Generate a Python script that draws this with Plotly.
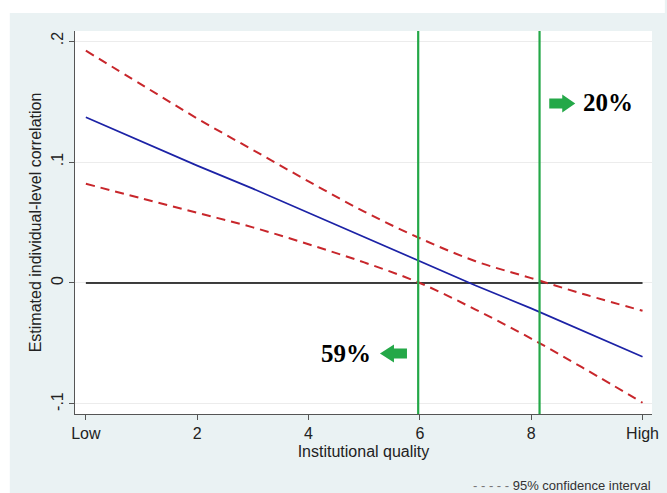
import plotly.graph_objects as go

# ---- data ----
quality = [0, 1, 2, 3, 4, 5, 6, 7, 8, 9, 10]
estimate = [0.137, 0.117, 0.097, 0.078, 0.058, 0.038, 0.018, -0.002, -0.021, -0.041, -0.061]
ci_upper = [0.192, 0.164, 0.136, 0.110, 0.084, 0.059, 0.037, 0.018, 0.004, -0.010, -0.023]
ci_lower = [0.082, 0.070, 0.058, 0.046, 0.032, 0.017, 0.000, -0.022, -0.046, -0.072, -0.099]
zero_x = [0, 10]
zero_y = [0, 0]
thresholds = [5.97, 8.15]
x_tickvals = [0, 2, 4, 6, 8, 10]
x_ticktext = ["Low", "2", "4", "6", "8", "High"]
y_tickvals = [-0.1, 0, 0.1, 0.2]
y_ticktext = ["-.1", "0", ".1", ".2"]
share_labels = ["59%", "20%"]

W, H = 667, 493
L, R, T, B = 75, 8, 31, 79
pw, ph = W - L - R, H - T - B
BG = "#eaf2f3"
GREEN = "#24a848"
SANS = "Liberation Sans, Arial, sans-serif"
SERIF = "Liberation Serif, Times New Roman, serif"


def px_x(p):
    return (p - L) / pw


def px_y(p):
    return (H - B - p) / ph


fig = go.Figure()
fig.add_trace(go.Scatter(x=zero_x, y=zero_y, mode="lines",
                         line=dict(color="black", width=1.3), hoverinfo="skip"))
fig.add_trace(go.Scatter(x=quality, y=ci_upper, mode="lines", line_shape="spline",
                         line=dict(color="#c8262b", width=2, dash="9px,6px")))
fig.add_trace(go.Scatter(x=quality, y=ci_lower, mode="lines", line_shape="spline",
                         line=dict(color="#c8262b", width=2, dash="9px,6px")))
fig.add_trace(go.Scatter(x=quality, y=estimate, mode="lines",
                         line=dict(color="#1c22a6", width=1.7)))

shapes = []
# white margins outside the graph region background
shapes.append(dict(type="rect", xref="paper", yref="paper", layer="below",
                   x0=px_x(-5), x1=px_x(9), y0=px_y(H + 5), y1=px_y(-5),
                   fillcolor="white", line=dict(width=0)))
shapes.append(dict(type="rect", xref="paper", yref="paper", layer="below",
                   x0=px_x(-5), x1=px_x(W + 5), y0=px_y(13), y1=px_y(-5),
                   fillcolor="white", line=dict(width=0)))
for t in thresholds:
    shapes.append(dict(type="line", xref="x", yref="paper", x0=t, x1=t, y0=0, y1=1,
                       line=dict(color=GREEN, width=2.2)))
# block arrows
shapes.append(dict(type="path", xref="paper", yref="paper",
                   xsizemode="pixel", ysizemode="pixel",
                   xanchor=px_x(555), yanchor=px_y(103.5),
                   path="M0,-5 L13,-5 L13,-9 L26,0 L13,9 L13,5 L0,5 Z",
                   fillcolor=GREEN, line=dict(width=0)))
shapes.append(dict(type="path", xref="paper", yref="paper",
                   xsizemode="pixel", ysizemode="pixel",
                   xanchor=px_x(411), yanchor=px_y(353.5),
                   path="M0,-5 L-13,-5 L-13,-9 L-27,0 L-13,9 L-13,5 L0,5 Z",
                   fillcolor=GREEN, line=dict(width=0)))

annotations = [
    dict(text="<b>%s</b>" % share_labels[1], xref="paper", yref="paper",
         x=px_x(614), y=px_y(102), xanchor="center", yanchor="middle",
         showarrow=False, font=dict(family=SERIF, size=25, color="black")),
    dict(text="<b>%s</b>" % share_labels[0], xref="paper", yref="paper",
         x=px_x(349.5), y=px_y(353), xanchor="center", yanchor="middle",
         showarrow=False, font=dict(family=SERIF, size=25, color="black")),
    dict(text="<span style='color:#777'>- - - - -</span> 95% confidence interval",
         xref="paper", yref="paper", x=px_x(660), y=px_y(485),
         xanchor="right", yanchor="middle", showarrow=False,
         font=dict(family=SANS, size=13, color="#333")),
]

fig.update_layout(
    width=W, height=H,
    margin=dict(l=L, r=R, t=T, b=B, pad=0),
    paper_bgcolor=BG, plot_bgcolor="white",
    showlegend=False,
    shapes=shapes, annotations=annotations,
    font=dict(family=SANS, size=16, color="#222"),
    xaxis=dict(range=[-0.195, 10.17], tickvals=x_tickvals, ticktext=x_ticktext,
               showgrid=False, zeroline=False, showline=True, linecolor="#555",
               linewidth=1, ticks="outside", ticklen=5, tickcolor="#555",
               tickfont=dict(size=16, color="#222"),
               title=dict(text="Institutional quality", standoff=4,
                          font=dict(size=16, color="#222"))),
    yaxis=dict(range=[-0.1083, 0.2083], tickvals=y_tickvals, ticktext=y_ticktext,
               tickangle=-90, showgrid=True, gridcolor="#ececec", gridwidth=1,
               zeroline=False, showline=True, linecolor="#555", linewidth=1,
               ticks="outside", ticklen=5, tickcolor="#555",
               tickfont=dict(size=16, color="#222"),
               title=dict(text="Estimated individual-level correlation", standoff=2,
                          font=dict(size=16, color="#222"))),
)

fig.write_html("out.html")
